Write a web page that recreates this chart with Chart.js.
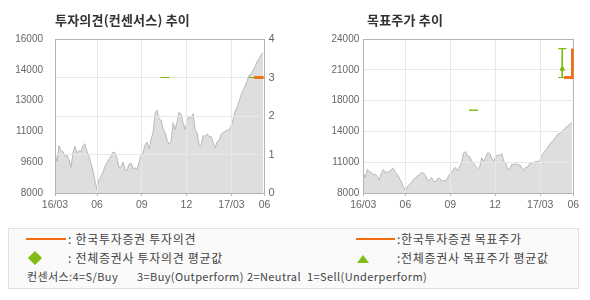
<!DOCTYPE html>
<html>
<head>
<meta charset="utf-8">
<script src="https://cdn.jsdelivr.net/npm/chart.js@4.4.0/dist/chart.umd.min.js"></script>
<style>
body { margin:0; width:590px; height:300px; background:#fff; position:relative; overflow:hidden; font-family:'Noto Sans CJK KR', sans-serif; }
canvas { position:absolute; top:0; }
.title { position:absolute; top:11px; font-size:13px; font-weight:bold; color:#333; line-height:18px; white-space:nowrap; letter-spacing:0.2px; }
.box { position:absolute; left:8px; top:228px; width:569px; height:59px; background:#fafafa; border:1px solid #e0e0e0; }
.lt { position:absolute; font-size:12px; line-height:14px; color:#444; white-space:nowrap; letter-spacing:0.7px; }
.ls { position:absolute; font-size:11px; line-height:14px; color:#444; white-space:nowrap; top:269px; letter-spacing:0.4px; }
.mk { position:absolute; }
</style>
</head>
<body>
<canvas id="opinion" width="300" height="215" style="left:0"></canvas>
<canvas id="target" width="290" height="215" style="left:300px"></canvas>
<div class="title" style="left:55px">투자의견(컨센서스) 추이</div>
<div class="title" style="left:367px">목표주가 추이</div>

<div class="box"></div>
<div class="mk" style="left:26px;top:238px;width:40px;height:2px;background:#f26d0c"></div>
<div class="lt" style="left:68px;top:232px">: 한국투자증권 투자의견</div>
<div class="mk" style="left:30px;top:253px;width:10px;height:10px;background:#80bd10;transform:rotate(45deg)"></div>
<div class="lt" style="left:68px;top:251px">: 전체증권사 투자의견 평균값</div>
<div class="ls" style="left:27px">컨센서스:4=S/Buy</div>
<div class="ls" style="left:137px">3=Buy(Outperform)</div>
<div class="ls" style="left:247px">2=Neutral</div>
<div class="ls" style="left:307px">1=Sell(Underperform)</div>
<div class="mk" style="left:356px;top:238px;width:39px;height:2px;background:#f26d0c"></div>
<div class="lt" style="left:397px;top:232px">:한국투자증권 목표주가</div>
<div class="mk" style="left:357px;top:255px;width:0;height:0;border-left:6.5px solid transparent;border-right:6.5px solid transparent;border-bottom:8px solid #80bd10"></div>
<div class="lt" style="left:397px;top:251px">:전체증권사 목표주가 평균값</div>

<script>
// stock price, one value per sample from 2016/03 to 2017/05
var priceData = [
    10080, 9630, 10460, 10200, 10150, 9900, 9960, 9730, 9340, 10090,
    10420, 10090, 10200, 10150, 10460, 10560, 10150, 9910, 9520, 9160,
    8600, 8180, 8690, 8850, 9090, 9380, 9590, 9770, 9910, 10130,
    10080, 9810, 9310, 9370, 9610, 9210, 9160, 9500, 9550, 9260,
    9300, 9240, 9570, 9970, 10080, 10510, 10640, 10300, 10770, 11170,
    12160, 12300, 11830, 11780, 11350, 11120, 10740, 10540, 10690, 11650,
    11290, 11710, 12190, 12080, 11610, 11290, 11840, 11930, 11900, 12120,
    11290, 11130, 10460, 10470, 10980, 10940, 11070, 10920, 10930, 10640,
    10340, 10670, 10720, 11050, 11130, 11200, 11270, 11270, 11480, 11830,
    12240, 12470, 12770, 13110, 13340, 13570, 13830, 14130, 14160, 14400,
    14560, 14840, 14970, 15200, 15290
];
var xTickPos = [0, 21, 43.35, 65.65, 88.15, 104.65];
var xTickLabels = ['16/03', '06', '09', '12', '17/03', '06'];

var priceTickLabels = ['8000', '9600', '11000', '13000', '14000', '16000'];
var opinionTickLabels = ['0', '1', '2', '3', '4'];
var targetTickLabels = ['8000', '11000', '14000', '18000', '21000', '24000'];

// 전체증권사 투자의견 평균값 (two periods)
var consOpinionX1 = [52.7, 57.2];
var consOpinionY1 = [3, 3];
var consOpinionX2 = [96.6, 99.5];
var consOpinionY2 = [3, 3];
// 한국투자증권 투자의견
var kisOpinionX = [99.5, 104.2];
var kisOpinionY = [3, 3];

// 전체증권사 목표주가 평균값
var consTargetX = [52.7, 57.2];
var consTargetY = [16600, 16600];
var consRangeX = 99.2;
var consRangeLow = 20000;
var consRangeHigh = 23000;
var consRangeAvg = 20900;
// 한국투자증권 목표주가
var kisTargetX = [100, 104.2, 104.2];
var kisTargetY = [20000, 20000, 23000];

var ORANGE = '#f26d0c';
var GREEN = '#7cb80e';
var AXIS = '#b4b4b4';
var GRID = '#e8e8e8';
var tickFont = { family: "'Liberation Sans', Arial, sans-serif", size: 10 };

function pts(xs, ys) {
    return xs.map(function (x, i) { return { x: x, y: ys[i] }; });
}

var pricePoints = priceData.map(function (v, i) { return { x: i, y: v }; });

function priceSet(axis) {
    return {
        data: pricePoints, yAxisID: axis, order: 10,
        borderColor: '#b8b8b8', borderWidth: 1, backgroundColor: '#dedede',
        fill: 'start', pointRadius: 0, tension: 0
    };
}

function lineSet(data, axis, color, width) {
    return {
        data: data, yAxisID: axis, order: 1, overGrid: true,
        borderColor: color, borderWidth: width, pointRadius: 0,
        fill: false, spanGaps: false, tension: 0
    };
}

function xScale() {
    return {
        type: 'linear', min: 0, max: xTickPos[xTickPos.length - 1],
        afterBuildTicks: function (s) {
            s.ticks = xTickPos.map(function (v) { return { value: v }; });
        },
        afterFit: function (s) { s.height = 22; },
        ticks: {
            autoSkip: false, maxRotation: 0, padding: 3, color: '#666', font: { family: tickFont.family, size: 10.5 },
            callback: function (v, i) { return xTickLabels[i]; }
        },
        grid: {
            z: 1,
            color: function (c) { return (c.index === 0 || c.index === xTickPos.length - 1) ? AXIS : GRID; },
            tickLength: 3, tickColor: AXIS
        },
        border: { color: AXIS, z: 2 }
    };
}

// redraw the marks after the grid (grid is drawn above the grey area)
var overGridPlugin = {
    id: 'overGrid',
    afterDraw: function (chart) {
        var ctx = chart.ctx, a = chart.chartArea;
        ctx.save();
        ctx.beginPath();
        ctx.rect(a.left - 2, a.top - 4, a.right - a.left + 4, a.bottom - a.top + 8);
        ctx.clip();
        chart.data.datasets.forEach(function (ds, i) {
            if (ds.overGrid) chart.getDatasetMeta(i).controller.draw();
        });
        ctx.restore();
    }
};

var baseOptions = {
    responsive: false, animation: false,
    plugins: { legend: { display: false }, tooltip: { enabled: false } }
};

new Chart(document.getElementById('opinion').getContext('2d'), {
    type: 'line',
    data: {
        datasets: [
            priceSet('y'),
            lineSet(pts(consOpinionX1, consOpinionY1), 'y2', GREEN, 1),
            lineSet(pts(consOpinionX2, consOpinionY2), 'y2', GREEN, 1),
            lineSet(pts(kisOpinionX, kisOpinionY), 'y2', ORANGE, 2.5)
        ]
    },
    options: Object.assign({}, baseOptions, {
        layout: { padding: { top: 39, left: 0, right: 0, bottom: 0 } },
        scales: {
            x: xScale(),
            y: {
                position: 'left', min: 8000, max: 16000,
                afterFit: function (s) { s.width = 55; },
                ticks: {
                    stepSize: 1600, padding: 4, color: '#666', font: tickFont,
                    callback: function (v, i) { return priceTickLabels[i]; }
                },
                grid: { display: false },
                border: { color: AXIS, z: 2 }
            },
            y2: {
                position: 'right', min: 0, max: 4,
                afterFit: function (s) { s.width = 35.5; },
                ticks: {
                    stepSize: 1, padding: 4, color: '#666', font: { family: tickFont.family, size: 11 },
                    callback: function (v, i) { return opinionTickLabels[i]; }
                },
                grid: {
                    z: 1, drawTicks: false,
                    color: function (c) { return c.tick.value === 4 ? AXIS : GRID; }
                },
                border: { color: AXIS, z: 2 }
            }
        }
    }),
    plugins: [overGridPlugin]
});

var rangeData = [
    { x: consRangeX - 2, y: consRangeHigh }, { x: consRangeX + 2, y: consRangeHigh }, { x: consRangeX, y: null },
    { x: consRangeX, y: consRangeHigh }, { x: consRangeX, y: consRangeLow }, { x: consRangeX, y: null },
    { x: consRangeX - 2, y: consRangeLow }, { x: consRangeX + 2, y: consRangeLow }
];

new Chart(document.getElementById('target').getContext('2d'), {
    type: 'line',
    data: {
        datasets: [
            priceSet('y'),
            lineSet(pts(consTargetX, consTargetY), 'y', GREEN, 1),
            lineSet(rangeData, 'y', GREEN, 1),
            {
                data: [{ x: consRangeX, y: consRangeAvg }], yAxisID: 'y', order: 1, overGrid: true,
                showLine: false, pointStyle: 'triangle', pointRadius: 2.5,
                pointBackgroundColor: GREEN, pointBorderColor: GREEN, pointBorderWidth: 1
            },
            lineSet(pts(kisTargetX, kisTargetY), 'y', ORANGE, 2.5)
        ]
    },
    options: Object.assign({}, baseOptions, {
        layout: { padding: { top: 39, left: 0, right: 16.7, bottom: 0 } },
        scales: {
            x: xScale(),
            y: {
                position: 'left', min: 8000, max: 24000,
                afterFit: function (s) { s.width = 63.3; },
                ticks: {
                    stepSize: 3200, padding: 4, color: '#666', font: tickFont,
                    callback: function (v, i) { return targetTickLabels[i]; }
                },
                grid: {
                    z: 1, drawTicks: false,
                    color: function (c) { return c.tick.value === 24000 ? AXIS : GRID; }
                },
                border: { color: AXIS, z: 2 }
            }
        }
    }),
    plugins: [overGridPlugin]
});
</script>
</body>
</html>
